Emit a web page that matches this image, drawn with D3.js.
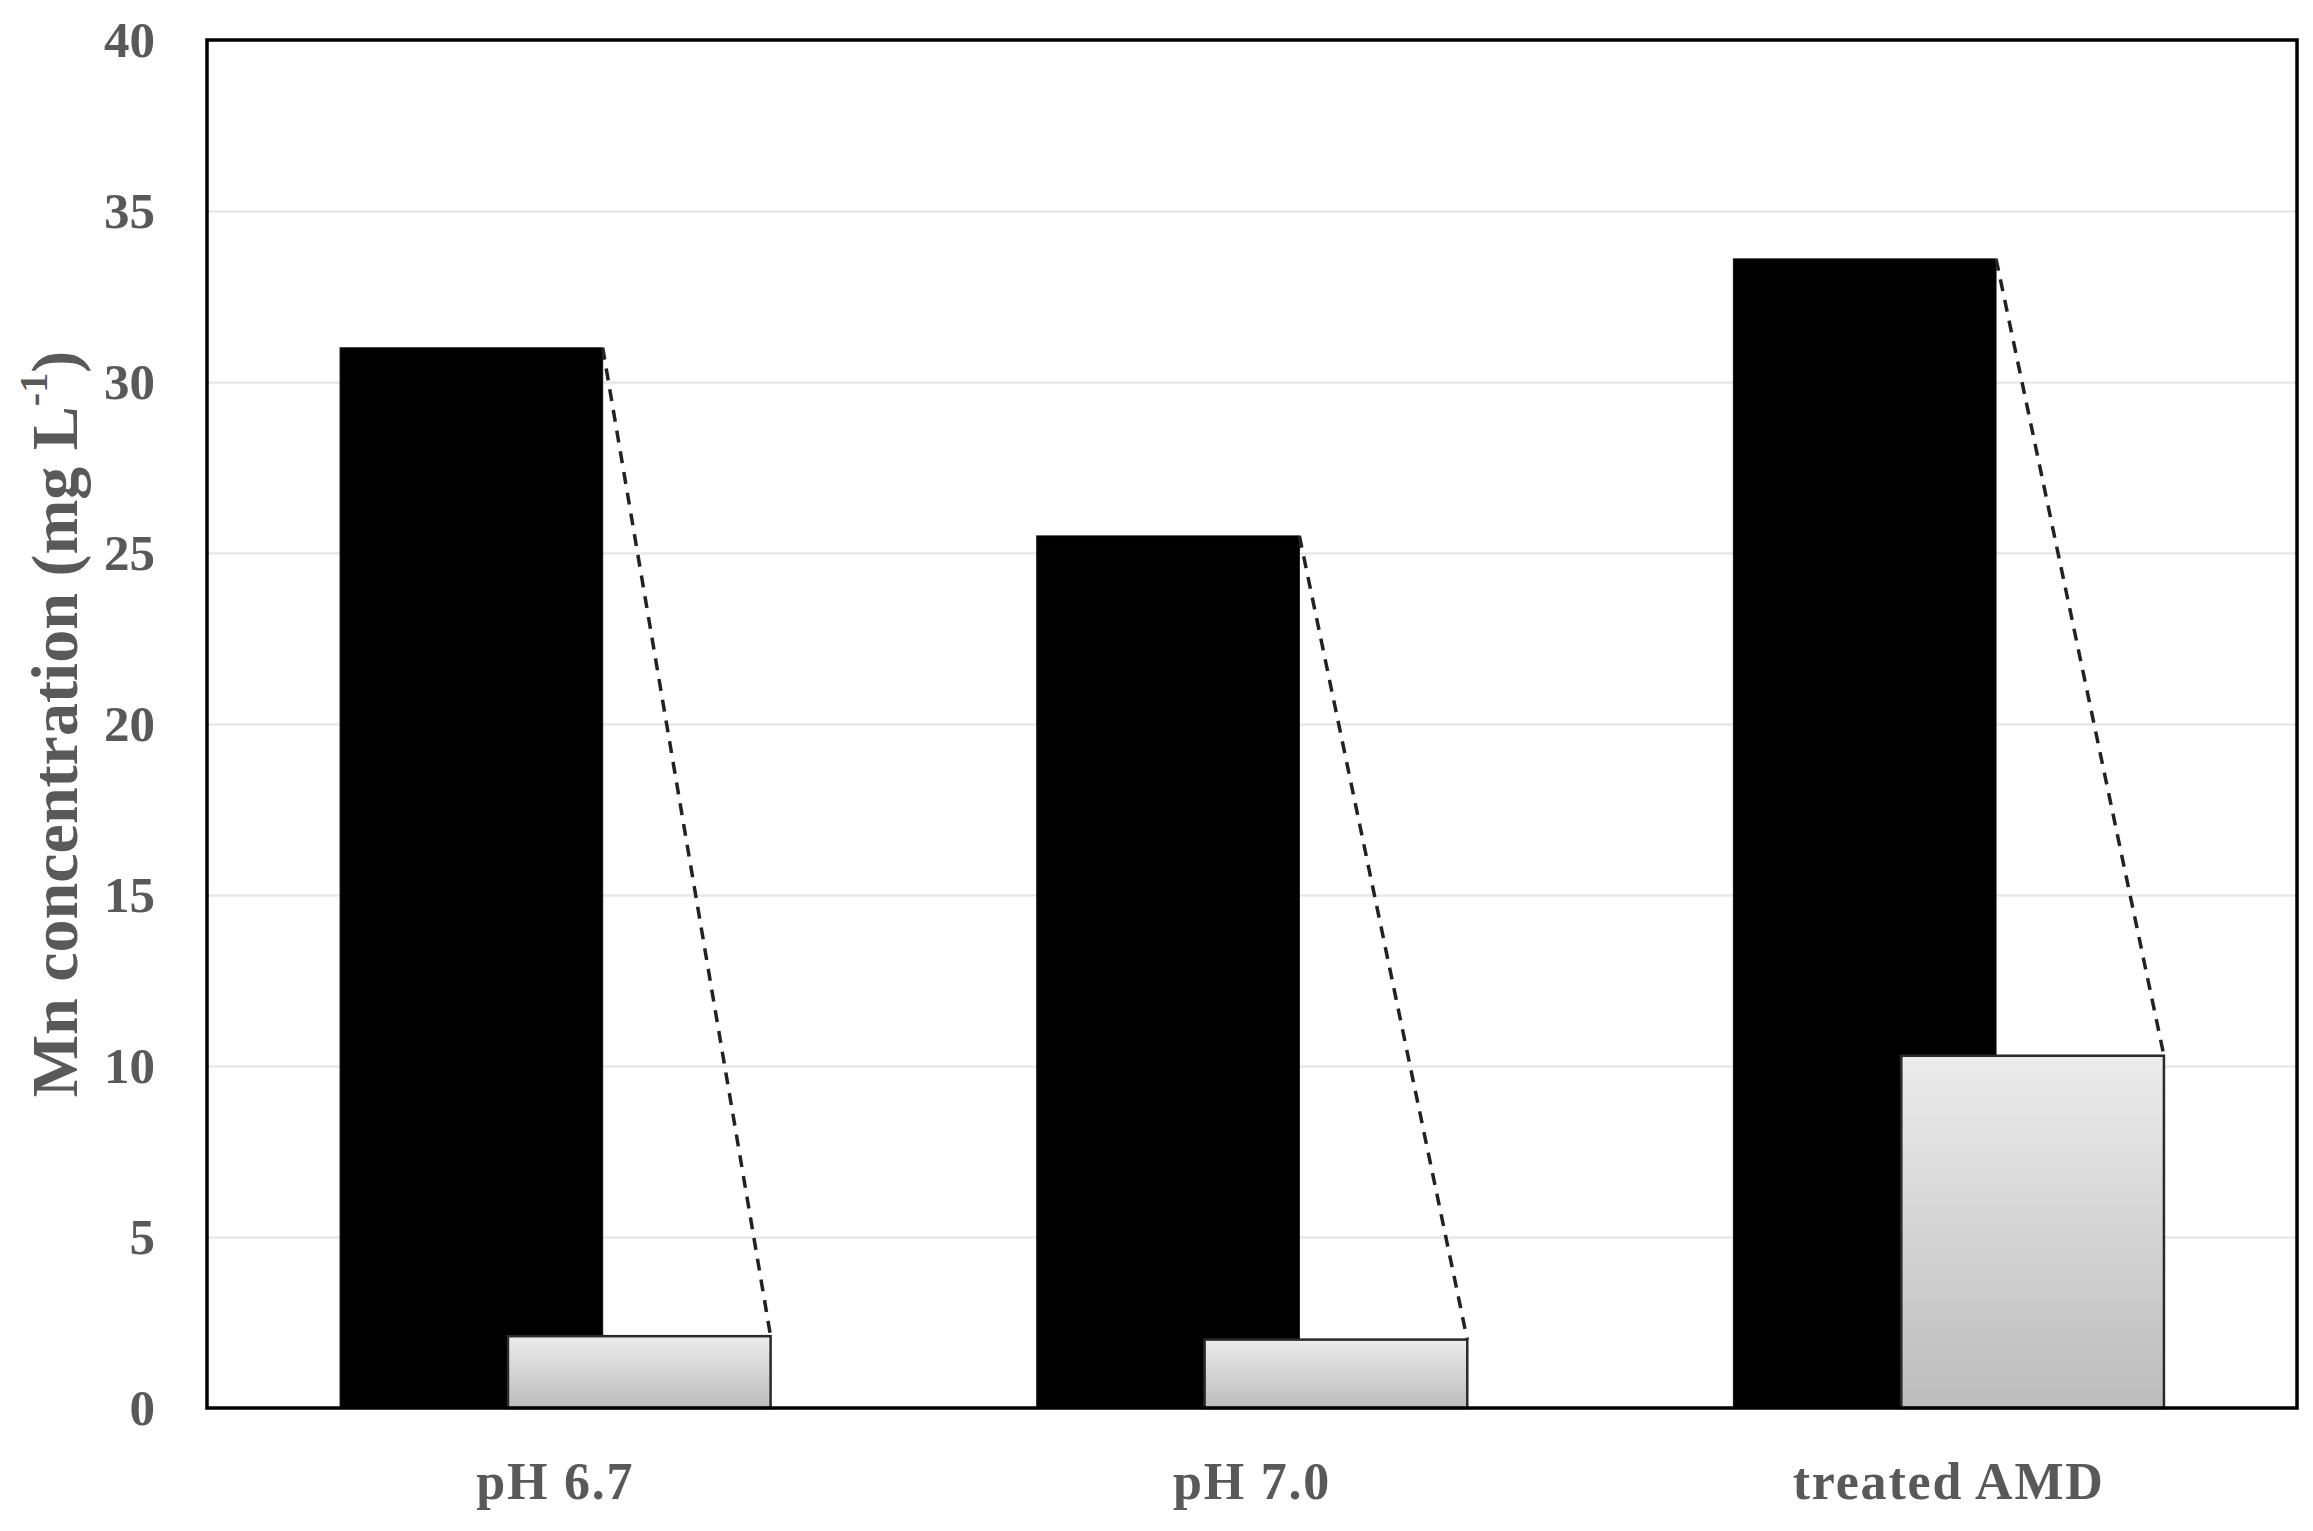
<!DOCTYPE html>
<html>
<head>
<meta charset="utf-8">
<script src="https://cdn.jsdelivr.net/npm/d3@7"></script>
<style>
  html, body { margin: 0; padding: 0; background: #fff; }
  svg { display: block; }
</style>
</head>
<body>
<svg id="chart" width="2313" height="1531"></svg>
<script>
// ---- data ----
const categories = ["pH 6.7", "pH 7.0", "treated AMD"];
const seriesNames = ["before", "after"];
const beforeValues = [31.0, 25.5, 33.6];
const afterValues = [2.1, 2.0, 10.3];
const yTicks = [0, 5, 10, 15, 20, 25, 30, 35, 40];
const yTitle = "Mn concentration (mg L";
const yTitleSup = "-1";

// ---- layout ----
const W = 2313, H = 1531;
const margin = { left: 207, right: W - 2297, top: 40, bottom: H - 1408 };
const plotW = W - margin.left - margin.right;
const plotH = H - margin.top - margin.bottom;
const labelColor = "#595959";
const fontFamily = "'Liberation Serif', 'DejaVu Serif', serif";

const svg = d3.select("#chart");
const defs = svg.append("defs");
const grad = defs.append("linearGradient")
  .attr("id", "greyGrad").attr("x1", 0).attr("y1", 0).attr("x2", 0).attr("y2", 1);
grad.append("stop").attr("offset", "0%").attr("stop-color", "#ececec");
grad.append("stop").attr("offset", "100%").attr("stop-color", "#bcbcbc");

const g = svg.append("g").attr("transform", `translate(${margin.left},${margin.top})`);

const x = d3.scaleBand().domain(categories).range([0, plotW]).paddingInner(0).paddingOuter(0);
const y = d3.scaleLinear().domain([0, 40]).range([plotH, 0]);

// group layout within band (fractions of band width)
const groupFrac = 0.618, barFrac = 0.377;
const bw = x.bandwidth();
const groupStart = (1 - groupFrac) / 2 * bw;
const barW = barFrac * bw;
const sub = d3.scalePoint().domain(seriesNames).range([groupStart, groupStart + (groupFrac - barFrac) * bw]);

// gridlines
g.append("g")
  .call(d3.axisLeft(y).tickValues(yTicks.filter(v => v > 0 && v < 40)).tickSize(-plotW).tickFormat(""))
  .call(s => s.select(".domain").remove())
  .call(s => s.selectAll("line").attr("stroke", "#e8e8e8").attr("stroke-width", 2.5));

const rows = categories.map((c, i) => ({ cat: c, before: beforeValues[i], after: afterValues[i] }));

// black bars
g.selectAll("rect.before").data(rows).join("rect")
  .attr("class", "before")
  .attr("x", d => x(d.cat) + sub("before"))
  .attr("y", d => y(d.before))
  .attr("width", barW)
  .attr("height", d => y(0) - y(d.before))
  .attr("fill", "#000")
  .attr("stroke", "#111").attr("stroke-width", 1);

// grey bars
g.selectAll("rect.after").data(rows).join("rect")
  .attr("class", "after")
  .attr("x", d => x(d.cat) + sub("after"))
  .attr("y", d => y(d.after))
  .attr("width", barW)
  .attr("height", d => y(0) - y(d.after))
  .attr("fill", "url(#greyGrad)")
  .attr("stroke", "#2a2a2a").attr("stroke-width", 2.5);

// dashed connectors
g.selectAll("line.conn").data(rows).join("line")
  .attr("class", "conn")
  .attr("x1", d => x(d.cat) + sub("before") + barW)
  .attr("y1", d => y(d.before))
  .attr("x2", d => x(d.cat) + sub("after") + barW)
  .attr("y2", d => y(d.after))
  .attr("stroke", "#222").attr("stroke-width", 3.5)
  .attr("stroke-dasharray", "12,9");

// frame
g.append("rect").attr("x", 0).attr("y", 0).attr("width", plotW).attr("height", plotH)
  .attr("fill", "none").attr("stroke", "#000").attr("stroke-width", 3.5);

// y axis labels
g.append("g")
  .call(d3.axisLeft(y).tickValues(yTicks).tickSize(0).tickPadding(52).tickFormat(d3.format("d")))
  .call(s => s.select(".domain").remove())
  .call(s => s.selectAll("text")
    .attr("fill", labelColor).attr("font-family", fontFamily)
    .attr("font-size", 51).attr("font-weight", "bold"));

// x axis labels
g.append("g").attr("transform", `translate(0,${plotH})`)
  .call(d3.axisBottom(x).tickSize(0).tickPadding(54))
  .call(s => s.select(".domain").remove())
  .call(s => s.selectAll("text")
    .attr("fill", labelColor).attr("font-family", fontFamily)
    .attr("font-size", 52).attr("font-weight", "bold")
    .attr("letter-spacing", 1.8));

// y title
const t = svg.append("text")
  .attr("transform", `translate(62,${margin.top + plotH / 2}) rotate(-90)`)
  .attr("text-anchor", "middle")
  .attr("dominant-baseline", "middle")
  .attr("fill", labelColor).attr("font-family", fontFamily)
  .attr("font-size", 66).attr("font-weight", "bold");
t.append("tspan").text(yTitle);
t.append("tspan").attr("font-size", 40).attr("dy", -24).text(yTitleSup);
t.append("tspan").attr("dy", 24).text(")");
</script>
</body>
</html>
